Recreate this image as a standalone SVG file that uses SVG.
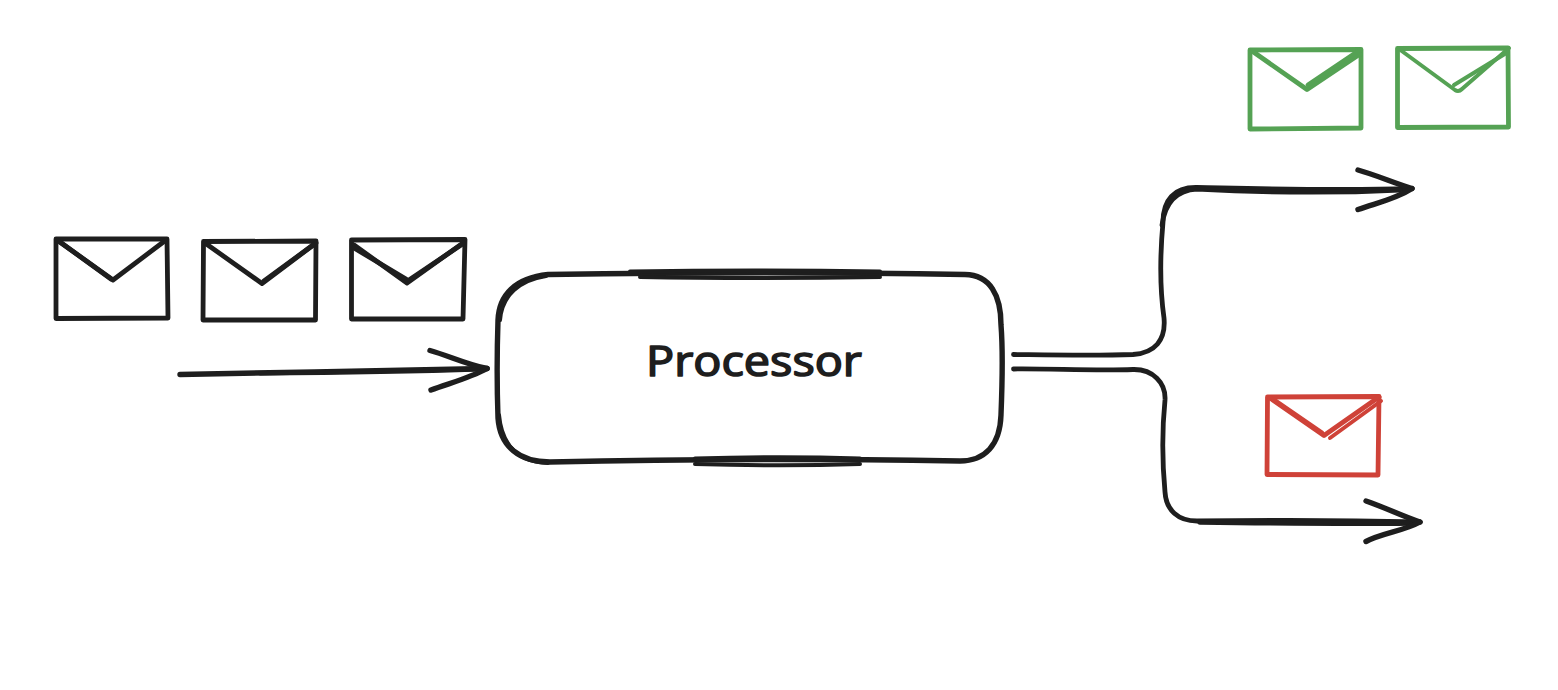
<svg xmlns="http://www.w3.org/2000/svg" width="1558" height="690" viewBox="0 0 1558 690">
<style>
.s{fill:none;stroke-linecap:round;stroke-linejoin:round;stroke-width:4}
.k{stroke:#1e1e1e}
.g{stroke:#55a254}
.r{stroke:#cf4238}
.t{stroke-width:4.8}
.w{stroke-width:5.4}
.label{font-family:"Open Sans","DejaVu Sans",sans-serif;font-size:42px;fill:#1e1e1e;stroke:#1e1e1e;stroke-width:1.6;stroke-linejoin:round}
</style>
<rect width="1558" height="690" fill="#ffffff"/>
<g id="connectors">
<g id="input-arrow">
<path class="s k w" d="M180 374.500 C280 372.500 390 370.500 487 368.500"/>
<path class="s k" d="M260 373.500 C340 373 410 372 480 369.500"/>
<path class="s k w" d="M430 350.500 C448 355.500 468 365 487 368.500"/>
<path class="s k w" d="M431 390 C450 383 470 378 487 368.500"/>
</g>
<g id="output-arrow-top">
<path class="s k t" d="M1013.500 354.500 C1050 355 1095 356 1133 354.500 C1155 353 1166 340 1164 318 C1160 290 1160 255 1163 222 C1163 200 1174 187 1197 187.500 C1270 189 1340 191 1411 188.500"/>
<path class="s k t" d="M1162 225 C1165 202 1178 190 1197 189 C1270 193 1340 193 1400 190"/>
<path class="s k w" d="M1358 170 C1376 175 1394 183 1412 188.500"/>
<path class="s k w" d="M1358 209.500 C1376 203 1396 199 1412 188.500"/>
</g>
<g id="output-arrow-bottom">
<path class="s k t" d="M1013.500 369 C1050 368.500 1095 371 1133 369.500 C1153 369 1166 383 1165 400 C1162 430 1162 460 1165 492 C1166 510 1178 521 1197 521 C1270 520 1345 520 1419 522"/>
<path class="s k w" d="M1200 522 C1270 523 1345 524 1410 523"/>
<path class="s k w" d="M1366 501 C1384 507 1402 516 1420 522"/>
<path class="s k w" d="M1366 541.500 C1382 533 1404 531 1420 522"/>
</g>
</g>
<g id="envelope-1">
<path class="s k t" d="M56 239 L167 239 L168 318 L56 318.500 Z"/>
<path class="s k t" d="M57 240 L113 280 L166 240"/>
<path class="s k t" d="M60 242 L111 279"/>
</g>
<g id="envelope-2">
<path class="s k t" d="M203.500 241.500 L316 241 L315.500 320 L203 320 Z"/>
<path class="s k t" d="M205 243 L262 283.500 L316 243"/>
<path class="s k t" d="M264 281 L313 245"/>
</g>
<g id="envelope-3">
<path class="s k t" d="M351.500 240 L465 239.500 L463 319 L351.500 319 Z"/>
<path class="s k t" d="M354 245 L407 283 L463 243"/>
<path class="s k t" d="M354 248 L406 279 M409 280 L461 245"/>
</g>
<g id="processor">
<path class="s k w" d="M548 274.500 C680 272.500 830 272 965 274.500 C990 275 1001 295 1001 325 C1003 350 1002 390 1001 415 C1000 445 985 461 960 461 C830 459 680 459 550 462 C520 462 500 447 498 418 C497 390 497 350 498 320 C499 295 515 278 548 274.500 Z"/>
<path class="s k" d="M630 271.500 C720 270 790 270 880 271.500 M640 277 C720 278.500 790 278.500 880 277 M695 464 C750 465.500 810 465.500 860 464 M695 458.500 C750 457 810 457 860 458.500 M499 415 C502 448 520 462 548 463 M500 320 C502 295 520 280 546 276"/>
<text class="label" x="754" y="376" text-anchor="middle" textLength="216" lengthAdjust="spacingAndGlyphs">Processor</text>
</g>
<g id="envelope-green-1">
<path class="s g t" d="M1250 50 L1361 49.500 L1361 128 L1250 129 Z"/>
<path class="s g t" d="M1252 51 L1307 89.500 L1360 54"/>
<path class="s g t" d="M1308 85 L1360 50"/>
</g>
<g id="envelope-green-2">
<path class="s g t" d="M1397.500 48.500 L1508 48 L1508.500 127 L1397.500 127.500 Z"/>
<path class="s g" d="M1399 49 L1455 90 C1458 92 1460 91 1462 89 L1509 48"/>
<path class="s g" d="M1454 85 L1508 52"/>
</g>
<g id="envelope-red">
<path class="s r t" d="M1267.500 397 L1379 396.500 L1378 475 L1267 474.500 Z"/>
<path class="s r t" d="M1270 398 L1324 435.500 L1379 397"/>
<path class="s r t" d="M1274 400 L1322 433"/>
<path class="s r" d="M1330 438 L1381 401"/>
</g>
</svg>
